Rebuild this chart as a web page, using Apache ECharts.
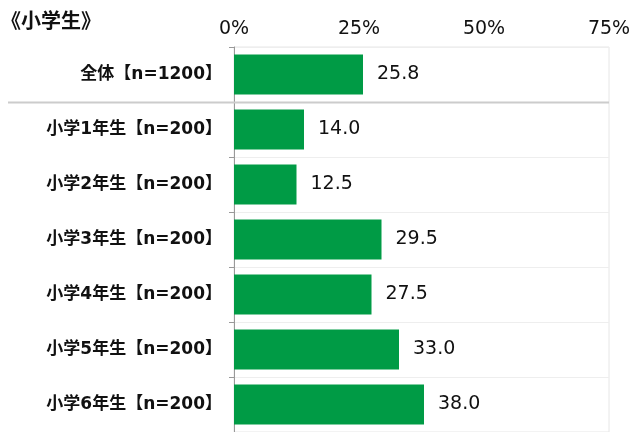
<!DOCTYPE html>
<html>
<head>
    <meta charset="utf-8">
    <title>小学生</title>
    <script src="https://cdn.jsdelivr.net/npm/echarts@6/dist/echarts.min.js"></script>
    <style>
        html, body { margin: 0; padding: 0; background: #fff; }
        #main { width: 634px; height: 432px; }
    </style>
</head>
<body>
<div id="main"></div>
<script>
    var categories = ['全体【n=1200】', '小学1年生【n=200】', '小学2年生【n=200】', '小学3年生【n=200】',
        '小学4年生【n=200】', '小学5年生【n=200】', '小学6年生【n=200】'];
    var values = [25.8, 14.0, 12.5, 29.5, 27.5, 33.0, 38.0];
    var axisMax = 75;
    var axisStep = 25;

    var font = '"DejaVu Sans", "Noto Sans CJK JP", sans-serif';
    var cjkFont = '"Noto Sans CJK JP", sans-serif';
    var chart = echarts.init(document.getElementById('main'));

    var option = {
        backgroundColor: '#fff',
        animation: false,
        title: {
            text: '《小学生》',
            left: -4,
            top: 5,
            textStyle: { fontFamily: cjkFont, fontSize: 20, fontWeight: 'bold', color: '#111' }
        },
        grid: {
            left: 234,
            right: 25,
            top: 47,
            height: 390,
            show: true,
            borderColor: '#e6e6e6',
            borderWidth: 1
        },
        xAxis: {
            type: 'value',
            position: 'top',
            min: 0,
            max: axisMax,
            interval: axisStep,
            axisLine: { show: false },
            axisTick: { show: false },
            splitLine: { show: false },
            axisLabel: {
                formatter: '{value}%',
                fontFamily: font,
                fontSize: 19,
                color: '#111',
                margin: 8
            }
        },
        yAxis: {
            type: 'category',
            inverse: true,
            data: categories,
            axisLine: { show: true, lineStyle: { color: '#999', width: 1 } },
            axisTick: { show: true, length: 5, lineStyle: { color: '#999' } },
            splitLine: { show: true, lineStyle: { color: '#eeeeee', width: 1 } },
            axisLabel: {
                fontFamily: font,
                fontSize: 17,
                fontWeight: 'bold',
                color: '#111',
                margin: 12
            }
        },
        series: [{
            type: 'bar',
            data: values,
            barWidth: 40,
            itemStyle: { color: '#009b45' },
            label: {
                show: true,
                position: 'right',
                distance: 14,
                formatter: function (p) { return p.value.toFixed(1); },
                fontFamily: font,
                fontSize: 19,
                color: '#111'
            }
        }]
    };
    chart.setOption(option);

    // separator under the 全体 row, extending into the label area
    var top1 = chart.convertToPixel({ yAxisIndex: 0 }, 0);
    var top2 = chart.convertToPixel({ yAxisIndex: 0 }, 1);
    var sepY = Math.round((top1 + top2) / 2) + 0.5;
    var rightX = chart.convertToPixel({ xAxisIndex: 0 }, axisMax);
    chart.setOption({
        graphic: [{
            type: 'line',
            shape: { x1: 8, y1: sepY, x2: rightX, y2: sepY },
            style: { stroke: '#cccccc', lineWidth: 2 },
            z: 10
        }]
    });
</script>
</body>
</html>
